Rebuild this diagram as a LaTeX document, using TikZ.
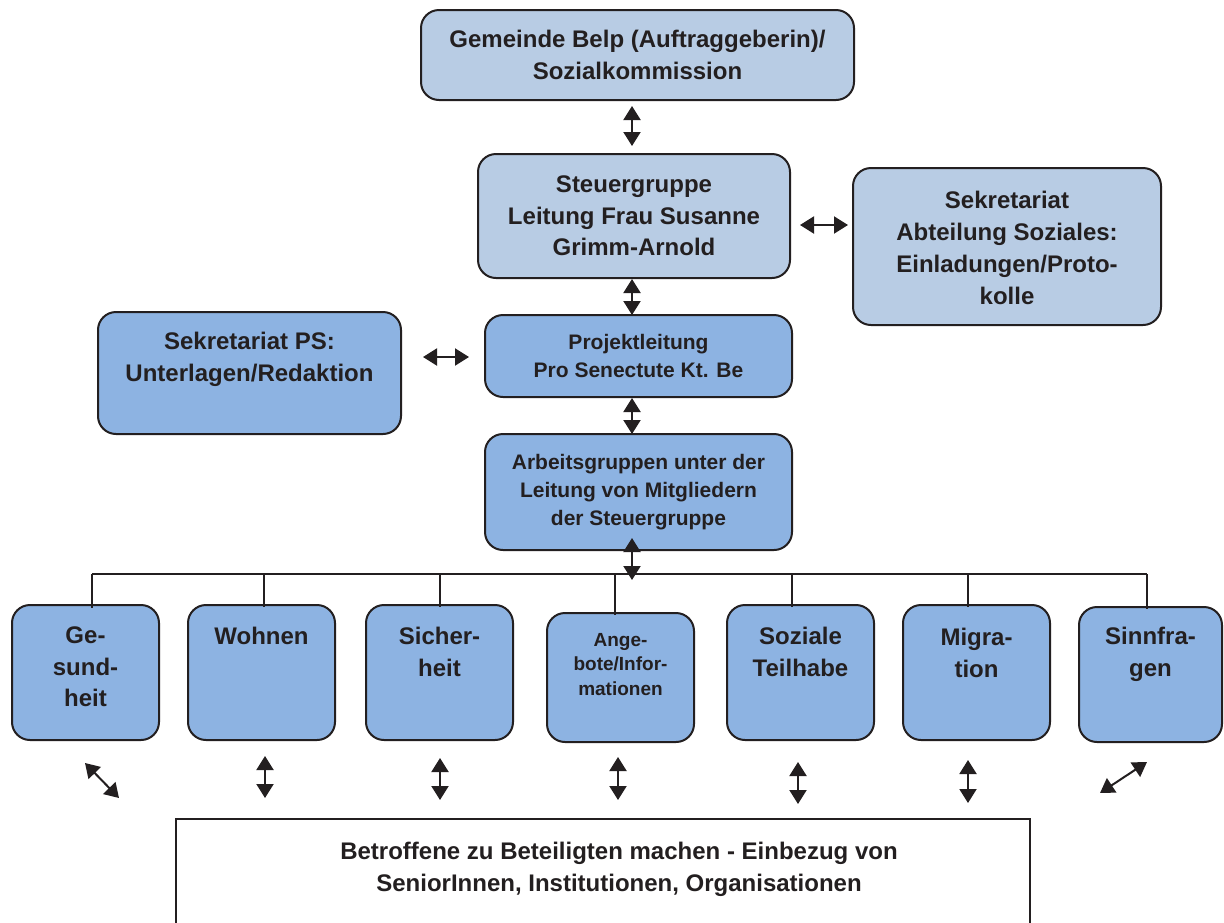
\documentclass[tikz,border=0pt]{standalone}
\usepackage{fontspec}
\setmainfont{Liberation Sans}
\usetikzlibrary{arrows.meta,calc}
\definecolor{lightbl}{HTML}{B8CCE4}
\definecolor{midbl}{HTML}{8DB3E2}
\definecolor{ink}{HTML}{231F20}
\begin{document}
\begin{tikzpicture}[x=1pt,y=-1pt,
  box/.style={draw=ink, line width=2pt, rounded corners=18pt, inner sep=0pt},
  lbox/.style={box, fill=lightbl},
  mbox/.style={box, fill=midbl},
  txt/.style={text=ink, align=center, inner sep=0pt, font=\bfseries\fontsize{24}{31.5}\selectfont},
  stxt/.style={txt, font=\bfseries\fontsize{21}{28}\selectfont},
  xtxt/.style={txt, font=\bfseries\fontsize{19}{24.5}\selectfont},
  dbl/.style={draw=ink, line width=2pt, {Triangle[length=14pt,width=17pt]}-{Triangle[length=14pt,width=17pt]}},
  wire/.style={draw=ink, line width=1.5pt}
]
\useasboundingbox (0,0) rectangle (1224,922);
\fill[white] (0,0) rectangle (1224,922);

% upper boxes
\node[lbox, minimum width=433pt, minimum height=90pt] (belp) at (637.5,55) {};
\node[txt] (belpT) at (belp.center) {Gemeinde Belp (Auftraggeberin)/\\Sozialkommission};

\node[lbox, minimum width=312pt, minimum height=124pt] (steuer) at (634,216) {};
\node[txt] (steuerT) at (steuer.center) {Steuergruppe\\Leitung Frau Susanne\\Grimm-Arnold};

\node[lbox, minimum width=308pt, minimum height=157pt] (sekr) at (1007,246.5) {};
\node[txt, font=\bfseries\fontsize{24}{32}\selectfont] (sekrT) at (1007,248) {Sekretariat\\Abteilung Soziales:\\Einladungen/Proto-\\kolle};

\node[mbox, minimum width=307pt, minimum height=82pt] (proj) at (638.5,356) {};
\node[stxt] (projT) at (proj.center) {Projektleitung\\Pro Senectute Kt. Be};

\node[mbox, minimum width=303pt, minimum height=122pt] (ps) at (249.5,373) {};
\node[txt, font=\bfseries\fontsize{24}{32}\selectfont] (psT) at (249.5,359) {Sekretariat PS:\\Unterlagen/Redaktion};

\node[mbox, minimum width=307pt, minimum height=116pt] (arb) at (638.5,492) {};
\node[stxt] (arbT) at (arb.center) {Arbeitsgruppen unter der\\Leitung von Mitgliedern\\der Steuergruppe};

% connectors upper
\draw[dbl] ($(belp.south)+(-5.5,5)$) -- ($(steuer.north)+(-2,-7)$);
\draw[dbl] ($(steuer.south)+(-2,0)$) -- ($(proj.north)+(-6.5,1)$);
\draw[dbl] ($(proj.south)+(-6.5,0)$) -- ($(arb.north)+(-6.5,1)$);
\draw[dbl] ($(steuer.east)+(9,9)$) -- ($(sekr.west)+(-4,-21.5)$);
\draw[dbl] ($(ps.east)+(21,-16)$) -- ($(proj.west)+(-15,1)$);

% row boxes
\node[mbox, minimum width=147pt, minimum height=135pt] (ges) at (85.5,672.5) {};
\node[mbox, minimum width=147pt, minimum height=135pt] (woh) at (261.5,672.5) {};
\node[mbox, minimum width=147pt, minimum height=135pt] (sich) at (439.5,672.5) {};
\node[mbox, minimum width=147pt, minimum height=129pt] (ang) at (620.5,677.5) {};
\node[mbox, minimum width=147pt, minimum height=135pt] (soz) at (800.5,672.5) {};
\node[mbox, minimum width=147pt, minimum height=135pt] (mig) at (976.5,672.5) {};
\node[mbox, minimum width=143pt, minimum height=135pt] (sinn) at (1150.5,674.5) {};

\node[txt, anchor=north] (gesT) at (85.5,627) {Ge-\\sund-\\heit};
\node[txt, anchor=north] (wohT) at (261.5,627) {Wohnen};
\node[txt, anchor=north] (sichT) at (439.5,627) {Sicher-\\heit};
\node[xtxt, anchor=north] (angT) at (620.5,633) {Ange-\\bote/Infor-\\mationen};
\node[txt, anchor=north] (sozT) at (800.5,627) {Soziale\\Teilhabe};
\node[txt, anchor=north] (migT) at (976.5,628) {Migra-\\tion};
\node[txt, anchor=north] (sinnT) at (1150.5,627) {Sinnfra-\\gen};

% bus
\coordinate (busL) at (92,574);
\coordinate (busR) at (1147,574);
\draw[wire] (busL) -- (busR);
\draw[wire] (busL) -- (92,608);
\draw[wire] (264,574) -- ($(woh.north)+(2.5,3)$);
\draw[wire] (440,574) -- ($(sich.north)+(0.5,3)$);
\draw[wire] (615,574) -- ($(ang.north)+(-5.5,3)$);
\draw[wire] (792,574) -- ($(soz.north)+(-8.5,3)$);
\draw[wire] (968,574) -- ($(mig.north)+(-8.5,3)$);
\draw[wire] (busR) -- ($(sinn.north)+(-3.5,3)$);
\draw[dbl] ($(arb.south)+(-6.5,-13)$) -- (632,580);

% bottom box
\node[draw=ink, line width=2pt, fill=white, minimum width=854pt, minimum height=130pt, inner sep=0pt] (bot) at (603,884) {};
\node[txt, font=\bfseries\fontsize{24}{32}\selectfont] (botT) at (619,869) {Betroffene zu Beteiligten machen - Einbezug von\\SeniorInnen, Institutionen, Organisationen};

% lower arrows
\coordinate (a1) at (85,763);
\coordinate (b1) at (119,798);
\draw[dbl] (a1) -- (b1);
\draw[dbl] (265,756) -- (265,798);
\draw[dbl] (440,758) -- (440,800);
\draw[dbl] (618,757) -- (618,800);
\draw[dbl] (798,762) -- (798,804);
\draw[dbl] (968,760) -- (968,803);
\coordinate (a7) at (1147,762);
\coordinate (b7) at (1100,793);
\draw[dbl] (a7) -- (b7);
\end{tikzpicture}
\end{document}
